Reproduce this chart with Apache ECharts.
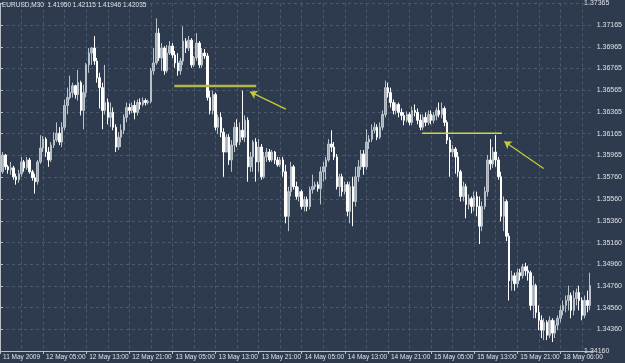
<!DOCTYPE html>
<html><head><meta charset="utf-8">
<script src="https://cdn.jsdelivr.net/npm/echarts@6/dist/echarts.min.js"></script>
<style>html,body{margin:0;padding:0;background:#2e3b4e}#c{width:625px;height:363px}</style>
</head><body><div id="c"></div>
<script>
const headerText = 'EURUSD,M30  1.41950 1.42115 1.41946 1.42035';
const xLabels = ['11 May 2009','12 May 05:00','12 May 13:00','12 May 21:00','13 May 05:00','13 May 13:00','13 May 21:00','14 May 05:00','14 May 13:00','14 May 21:00','15 May 05:00','15 May 13:00','15 May 21:00','18 May 06:00'];
const yLabels = ['1.34160','1.34360','1.34560','1.34760','1.34960','1.35160','1.35360','1.35560','1.35760','1.35965','1.36165','1.36365','1.36565','1.36765','1.36965','1.37165','1.37365'];
const yMin = 1.34160, yMax = 1.37365;

const opens = [
1.35859,1.35813,1.35968,1.35859,1.35831,1.35849,1.35767,1.35740,1.35795,1.35904,
1.35849,1.35922,1.35813,1.35758,1.35722,1.35904,1.36032,1.36114,1.35995,1.35922,
1.36059,1.36105,1.36169,1.36087,1.36224,1.36425,1.36498,1.36543,1.36607,1.36525,
1.36635,1.36379,1.36543,1.36799,1.36908,1.36954,1.36835,1.36680,1.36589,1.36379,
1.36452,1.36315,1.36361,1.36224,1.36041,1.36132,1.36196,1.36315,1.36406,1.36379,
1.36425,1.36361,1.36452,1.36434,1.36470,1.36452,1.36461,1.36744,1.36817,1.37091,
1.36863,1.36954,1.36744,1.36908,1.36972,1.36890,1.36817,1.36744,1.36835,1.37018,
1.36954,1.37027,1.36799,1.36863,1.37000,1.36799,1.36908,1.36881,1.36498,1.36379,
1.36525,1.36224,1.36315,1.36178,1.35995,1.36132,1.35922,1.36059,1.36224,1.36087,
1.36196,1.36132,1.36288,1.35859,1.35950,1.36087,1.35904,1.36041,1.35767,1.35950,
1.35995,1.35922,1.35995,1.35922,1.35877,1.35922,1.35813,1.35402,1.35630,1.35859,
1.35676,1.35585,1.35630,1.35493,1.35557,1.35493,1.35649,1.35676,1.35694,1.35658,
1.35813,1.35859,1.35922,1.36069,1.36041,1.35950,1.35676,1.35767,1.35630,1.35694,
1.35448,1.35676,1.35539,1.35767,1.35859,1.35977,1.35859,1.36087,1.36114,1.36196,
1.36224,1.36132,1.36224,1.36342,1.36589,1.36543,1.36452,1.36379,1.36434,1.36361,
1.36333,1.36288,1.36342,1.36269,1.36379,1.36361,1.36288,1.36224,1.36315,1.36269,
1.36342,1.36288,1.36333,1.36379,1.36342,1.36397,1.36269,1.36105,1.35995,1.36023,
1.35950,1.35813,1.35585,1.35676,1.35512,1.35566,1.35493,1.35585,1.35493,1.35311,
1.35493,1.35630,1.35922,1.35886,1.35995,1.35922,1.35767,1.35402,1.35539,1.35219,
1.34809,1.34854,1.34781,1.34882,1.34854,1.34936,1.34900,1.34882,1.34580,1.34763,
1.34516,1.34443,1.34352,1.34425,1.34306,1.34443,1.34325,1.34398,1.34462,1.34535,
1.34580,1.34626,1.34672,1.34535,1.34644,1.34699,1.34626,1.34489,1.34626,1.34580];

const closes = [
1.35922,1.35968,1.35859,1.35831,1.35849,1.35767,1.35740,1.35795,1.35904,1.35849,
1.35922,1.35813,1.35758,1.35722,1.35904,1.36032,1.36114,1.35995,1.35922,1.36059,
1.36105,1.36169,1.36087,1.36224,1.36425,1.36498,1.36543,1.36607,1.36525,1.36635,
1.36379,1.36543,1.36799,1.36908,1.36954,1.36835,1.36680,1.36589,1.36379,1.36452,
1.36315,1.36361,1.36224,1.36041,1.36132,1.36196,1.36315,1.36406,1.36379,1.36425,
1.36361,1.36452,1.36434,1.36470,1.36452,1.36461,1.36744,1.36817,1.37091,1.36863,
1.36954,1.36744,1.36908,1.36972,1.36890,1.36817,1.36744,1.36835,1.37018,1.36954,
1.37027,1.36799,1.36863,1.37000,1.36799,1.36908,1.36881,1.36498,1.36379,1.36525,
1.36224,1.36315,1.36178,1.35995,1.36132,1.35922,1.36059,1.36224,1.36087,1.36196,
1.36132,1.36288,1.35859,1.35950,1.36087,1.35904,1.36041,1.35767,1.35950,1.35995,
1.35922,1.35995,1.35922,1.35877,1.35922,1.35813,1.35402,1.35630,1.35859,1.35676,
1.35585,1.35630,1.35493,1.35557,1.35493,1.35649,1.35676,1.35694,1.35658,1.35813,
1.35859,1.35922,1.36069,1.36041,1.35950,1.35676,1.35767,1.35630,1.35694,1.35448,
1.35676,1.35539,1.35767,1.35859,1.35977,1.35859,1.36087,1.36114,1.36196,1.36224,
1.36132,1.36224,1.36342,1.36589,1.36543,1.36452,1.36379,1.36434,1.36361,1.36333,
1.36288,1.36342,1.36269,1.36379,1.36361,1.36288,1.36224,1.36315,1.36269,1.36342,
1.36288,1.36333,1.36379,1.36342,1.36397,1.36269,1.36105,1.35995,1.36023,1.35950,
1.35813,1.35585,1.35676,1.35512,1.35566,1.35493,1.35585,1.35493,1.35311,1.35493,
1.35630,1.35922,1.35886,1.35995,1.35922,1.35767,1.35402,1.35539,1.35219,1.34809,
1.34854,1.34781,1.34882,1.34854,1.34936,1.34900,1.34882,1.34580,1.34763,1.34516,
1.34443,1.34352,1.34425,1.34306,1.34443,1.34325,1.34398,1.34462,1.34535,1.34580,
1.34626,1.34672,1.34535,1.34644,1.34699,1.34626,1.34489,1.34626,1.34580,1.34763];

const lows = [
1.35831,1.35795,1.35831,1.35795,1.35786,1.35740,1.35694,1.35712,1.35767,1.35813,
1.35831,1.35795,1.35731,1.35612,1.35694,1.35886,1.35995,1.35950,1.35859,1.35904,
1.36032,1.36087,1.36059,1.36041,1.36196,1.36342,1.36479,1.36498,1.36489,1.36470,
1.36333,1.36205,1.36498,1.36726,1.36799,1.36799,1.36635,1.36397,1.36205,1.36342,
1.36251,1.36224,1.36196,1.35995,1.36014,1.36041,1.36160,1.36269,1.36342,1.36352,
1.36297,1.36333,1.36388,1.36415,1.36425,1.36434,1.36443,1.36708,1.36799,1.36835,
1.36744,1.36708,1.36726,1.36890,1.36863,1.36772,1.36699,1.36708,1.36799,1.36908,
1.36927,1.36772,1.36781,1.36835,1.36772,1.36772,1.36854,1.36470,1.36342,1.36342,
1.36196,1.36160,1.36132,1.35767,1.35995,1.35877,1.35813,1.35995,1.36041,1.36059,
1.36105,1.36087,1.35722,1.35813,1.35813,1.35722,1.35813,1.35740,1.35749,1.35904,
1.35904,1.35904,1.35886,1.35859,1.35859,1.35767,1.35338,1.35265,1.35585,1.35649,
1.35557,1.35539,1.35466,1.35448,1.35448,1.35466,1.35612,1.35649,1.35630,1.35512,
1.35722,1.35740,1.35904,1.35995,1.35922,1.35649,1.35585,1.35585,1.35603,1.35402,
1.35338,1.35311,1.35493,1.35722,1.35831,1.35786,1.35831,1.36023,1.36087,1.36169,
1.36105,1.36114,1.36196,1.36315,1.36498,1.36406,1.36342,1.36342,1.36315,1.36288,
1.36242,1.36269,1.36242,1.36242,1.36324,1.36251,1.36196,1.36196,1.36233,1.36242,
1.36251,1.36260,1.36288,1.36315,1.36306,1.36233,1.36069,1.35767,1.35950,1.35795,
1.35767,1.35539,1.35539,1.35384,1.35466,1.35429,1.35448,1.35402,1.35146,1.35265,
1.35466,1.35585,1.35831,1.35849,1.35859,1.35740,1.35356,1.35265,1.35174,1.34626,
1.34717,1.34717,1.34745,1.34809,1.34827,1.34854,1.34809,1.34535,1.34462,1.34462,
1.34352,1.34279,1.34261,1.34261,1.34279,1.34243,1.34279,1.34352,1.34425,1.34489,
1.34516,1.34535,1.34462,1.34489,1.34580,1.34535,1.34443,1.34462,1.34516,1.34535];

const highs = [
1.35950,1.35995,1.35977,1.35877,1.35904,1.35868,1.35795,1.35831,1.35950,1.35922,
1.35950,1.35941,1.35831,1.35795,1.35922,1.36151,1.36142,1.36132,1.36041,1.36087,
1.36178,1.36269,1.36224,1.36269,1.36479,1.36589,1.36699,1.36635,1.36616,1.36753,
1.36653,1.36616,1.36817,1.36954,1.36963,1.37064,1.36863,1.36726,1.36635,1.36799,
1.36489,1.36452,1.36406,1.36251,1.36178,1.36251,1.36342,1.36452,1.36443,1.36452,
1.36470,1.36479,1.36489,1.36498,1.36489,1.36479,1.36772,1.36954,1.37228,1.37137,
1.37000,1.36972,1.36982,1.37018,1.37000,1.36927,1.36908,1.36863,1.37155,1.37045,
1.37064,1.37045,1.36881,1.37091,1.37018,1.36954,1.36945,1.36908,1.36562,1.36562,
1.36543,1.36342,1.36361,1.36215,1.36160,1.36160,1.36105,1.36269,1.36297,1.36269,
1.36562,1.36333,1.36315,1.35995,1.36105,1.36123,1.36114,1.36069,1.35995,1.36032,
1.36023,1.36014,1.36005,1.35950,1.35950,1.35950,1.35877,1.35676,1.35904,1.35877,
1.35722,1.35676,1.35649,1.35585,1.35585,1.35676,1.35786,1.35722,1.35722,1.35859,
1.35904,1.35950,1.36114,1.36196,1.36087,1.35977,1.35795,1.35795,1.35722,1.35722,
1.35722,1.35767,1.35859,1.35922,1.36014,1.36014,1.36205,1.36151,1.36251,1.36269,
1.36251,1.36269,1.36379,1.36653,1.36635,1.36589,1.36479,1.36452,1.36452,1.36397,
1.36361,1.36370,1.36361,1.36415,1.36434,1.36397,1.36342,1.36342,1.36361,1.36379,
1.36379,1.36361,1.36406,1.36452,1.36452,1.36415,1.36288,1.36132,1.36059,1.36041,
1.35995,1.35831,1.35722,1.35703,1.35603,1.35585,1.35630,1.35630,1.35585,1.35539,
1.35676,1.35968,1.36114,1.36041,1.36151,1.35950,1.35813,1.35585,1.35557,1.35247,
1.34900,1.34882,1.34918,1.34918,1.34964,1.34973,1.34946,1.34900,1.34854,1.34781,
1.34580,1.34489,1.34462,1.34443,1.34480,1.34462,1.34443,1.34489,1.34580,1.34626,
1.34672,1.34763,1.34699,1.34717,1.34736,1.34763,1.34653,1.34672,1.34717,1.34882];

// annotations: [bar position, price]
const level1 = [[64.7, 1.36604], [95.1, 1.36604]];
const arrow1 = [[106.1, 1.36391], [92.8, 1.36550]];
const level2 = [[156.7, 1.36169], [186.3, 1.36169]];
const arrow2 = [[201.8, 1.35843], [187.2, 1.36093]];

const nCat = opens.length + 1;
const categories = [];
for (let i = 0; i < nCat; i++) categories.push(String(i));
const candles = opens.map((o, i) => [o, closes[i], lows[i], highs[i]]);

const FONT = 'Liberation Sans';
const TXT = '#dde2e8';
const GRID = '#4a5a6e';

const chart = echarts.init(document.getElementById('c'), null, {renderer: 'canvas'});
chart.setOption({
  backgroundColor: '#2e3b4e',
  animation: false,
  title: {text: headerText, left: 2, top: 2, padding: 0,
    textStyle: {color: TXT, fontSize: 6.5, fontWeight: 'normal', fontFamily: FONT}},
  grid: {left: -2.1, right: 25.2, top: 0, bottom: 12, containLabel: false},
  xAxis: [{
    type: 'category', data: categories, boundaryGap: false,
    axisLine: {show: true, lineStyle: {color: '#b8bfc8', width: 1}},
    axisTick: {show: true, interval: 15, length: 3, lineStyle: {color: '#b8bfc8'}},
    axisLabel: {interval: 15, align: 'left', margin: 3, padding: [0,0,0,3],
      color: TXT, fontSize: 6.5, fontFamily: FONT,
      formatter: (v, idx) => xLabels[Math.round(idx / 16)] || ''},
    splitLine: {show: true, interval: 7, lineStyle: {color: GRID, type: [3, 3], width: 1}}
  }, {
    type: 'value', min: 0, max: nCat - 1, show: false
  }],
  yAxis: {
    type: 'value', position: 'right', min: yMin, max: yMax, scale: true,
    axisLine: {show: true, lineStyle: {color: '#b8bfc8', width: 1}},
    axisTick: {show: true, length: 3, customValues: yLabels.map(Number), lineStyle: {color: '#b8bfc8'}},
    axisLabel: {customValues: yLabels.map(Number), margin: 4, color: TXT, fontSize: 7, fontFamily: FONT,
      alignMaxLabel: 'middle', alignMinLabel: 'middle',
      formatter: v => v.toFixed(5)},
    splitLine: {show: true, lineStyle: {color: GRID, type: [3, 3], width: 1}}
  },
  series: [{
    type: 'candlestick', data: candles, barWidth: 2,
    itemStyle: {color: '#a3adb8', color0: '#ffffff', borderColor: '#b9c1ca', borderColor0: '#ffffff', borderWidth: 1}
  }, {
    type: 'line', xAxisIndex: 1, data: level1, symbol: 'none',
    lineStyle: {color: '#b3b64a', width: 2.5}
  }, {
    type: 'line', xAxisIndex: 1, data: level2, symbol: 'none',
    lineStyle: {color: '#d2d53c', width: 1.5}
  }, {
    type: 'lines', coordinateSystem: 'cartesian2d', xAxisIndex: 1, yAxisIndex: 0,
    symbol: ['none', 'arrow'], symbolSize: 7,
    lineStyle: {color: '#c9cc3a', width: 1.2, opacity: 1},
    data: [{coords: arrow1}, {coords: arrow2}]
  }]
});
</script>
</body></html>
